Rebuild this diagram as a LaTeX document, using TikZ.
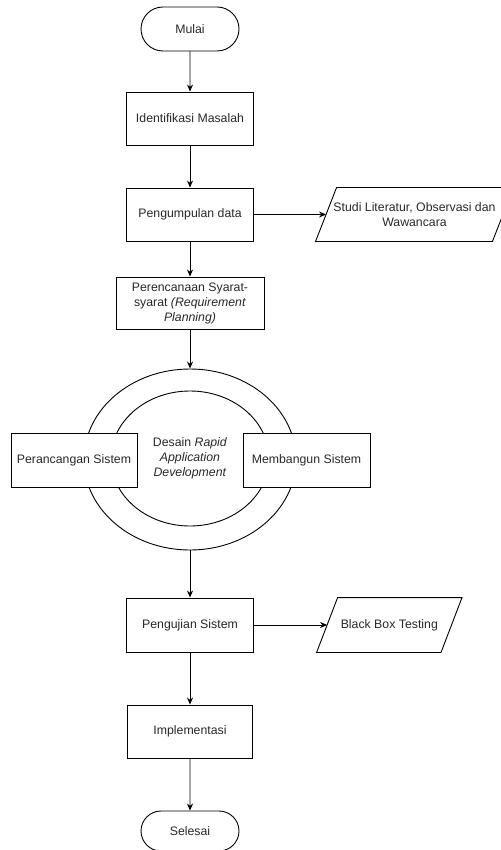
\documentclass[tikz,border=0pt]{standalone}
\usepackage{fontspec}
\setmainfont{Liberation Sans}
\usetikzlibrary{shapes.geometric,shapes.misc,arrows.meta}
\definecolor{txt}{RGB}{40,40,40}
\tikzset{
  box/.style={draw,fill=white,rectangle,minimum width=127pt,minimum height=53pt,inner sep=2pt,align=center},
  term/.style={draw,fill=white,rounded rectangle,minimum width=98pt,minimum height=44pt,inner sep=0pt},
  io/.style={rectangle,minimum height=53pt,inner sep=1pt,align=center},
  ring/.style={draw,ellipse,inner sep=0pt},
}
% slanted outline round an io node
\newcommand{\ioframe}[1]{%
  \draw ([xshift=-10.5pt]#1.south west) -- ([xshift=10.5pt]#1.north west)
    -- ([xshift=10.5pt]#1.north east) -- ([xshift=-10.5pt]#1.south east) -- cycle;}
\begin{document}
\begin{tikzpicture}[x=1pt,y=-1pt,line width=0.9pt,>={Stealth[length=7pt,width=6pt]},
  font=\fontsize{12.3}{15}\selectfont,text=txt]
\useasboundingbox (0,0) rectangle (500,850);
\node[ring,minimum width=212pt,minimum height=181pt] (v5) at (190,459.5) {};
\node[ring,minimum width=158pt,minimum height=135pt,align=center] (v6) at (190,458.5) {Desain \textit{Rapid}\\ \textit{Application}\\ \textit{Development}};
\node[term] (v0) at (190,29) {Mulai};
\node[box] (v1) at (190,118.5) {Identifikasi Masalah};
\node[box] (v2) at (190,214.5) {Pengumpulan data};
\node[io,minimum width=176pt] (v3) at (414.5,214.5) {Studi Literatur, Observasi dan\\ Wawancara};
\node[box,minimum width=148pt,minimum height=52pt] (v4) at (190,303) {Perencanaan Syarat-\\ syarat \textit{(Requirement}\\ \textit{Planning)}};
\node[box,minimum width=126pt,minimum height=54pt] (v7) at (74,460) {Perancangan Sistem};
\node[box,minimum height=54pt] (v8) at (306.5,460) {Membangun Sistem};
\node[box,minimum height=54pt] (v9) at (190,625) {Pengujian Sistem};
\node[io,minimum width=123.5pt,minimum height=54pt] (v10) at (389.3,625) {Black Box Testing};
\node[box,minimum width=125pt] (v11) at (190,731.5) {Implementasi};
\node[term,minimum height=40pt] (v12) at (190,831) {Selesai};
\ioframe{v3}
\ioframe{v10}
\draw [->] (v0) edge (v1);
\draw [->] (v1) edge (v2);
\draw [->] (v2) edge (v3);
\draw [->] (v2) edge (v4);
\draw [->] (v4) edge (v5);
\draw [->] (v5) edge (v9);
\draw [->] (v9) edge (v10);
\draw [->] (v9) edge (v11);
\draw [->] (v11) edge (v12);
\end{tikzpicture}
\end{document}
